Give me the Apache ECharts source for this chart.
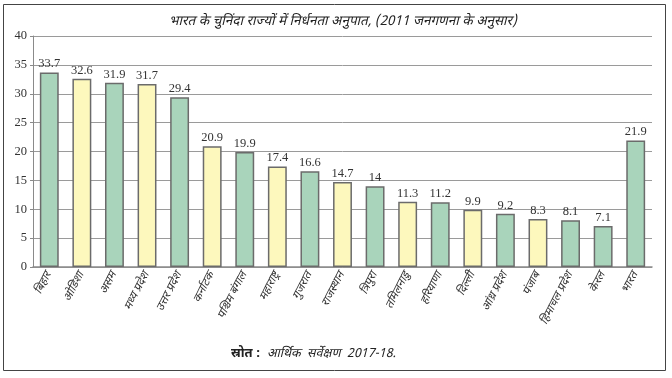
<!DOCTYPE html>
<html>
<head>
<meta charset="utf-8">
<script src="https://cdn.jsdelivr.net/npm/echarts@6/dist/echarts.min.js"></script>
<style>
  html, body { margin: 0; padding: 0; background: #fff; }
  #chart { width: 672px; height: 378px; }
</style>
</head>
<body>
<div id="chart"></div>
<script>
// राज्य-वार निर्धनता अनुपात (2011)
const states = [
  "बिहार", "ओडिशा", "असम", "मध्य प्रदेश", "उत्तर प्रदेश", "कर्नाटक",
  "पश्चिम बंगाल", "महाराष्ट्र", "गुजरात", "राजस्थान", "त्रिपुरा", "तमिलनाडु",
  "हरियाणा", "दिल्ली", "आंध्र प्रदेश", "पंजाब", "हिमाचल प्रदेश", "केरल", "भारत"
];
const povertyRatio = [33.7, 32.6, 31.9, 31.7, 29.4, 20.9, 19.9, 17.4, 16.6, 14.7, 14, 11.3, 11.2, 9.9, 9.2, 8.3, 8.1, 7.1, 21.9];
// g = हरा, y = पीला
const barTone = ["g", "y", "g", "y", "g", "y", "g", "y", "g", "y", "g", "y", "g", "y", "g", "y", "g", "g", "g"];
const yTicks = [0, 5, 10, 15, 20, 25, 30, 35, 40];

const TONES = { g: "#a9d4bb", y: "#fdf8bd" };
const DEVA = "'Noto Sans Devanagari', 'Lohit Devanagari', 'Noto Serif Devanagari', 'Mukta', sans-serif";
const SERIF = "'Liberation Serif', 'DejaVu Serif', serif";

const chart = echarts.init(document.getElementById("chart"), null, { renderer: "canvas" });

chart.setOption({
  animation: false,
  backgroundColor: "#fff",
  title: {
    text: "भारत के चुनिंदा राज्यों में निर्धनता अनुपात, (2011 जनगणना के अनुसार)",
    left: 338, top: 10, textAlign: "center",
    textStyle: { fontSize: 13.5, fontWeight: "normal", fontStyle: "italic", color: "#222", fontFamily: DEVA }
  },
  grid: { left: 33, right: 20, top: 36, bottom: 111 },
  xAxis: {
    type: "category",
    data: states,
    axisLine: { lineStyle: { color: "#8a8a8a", width: 1.5 } },
    axisTick: { show: false },
    axisLabel: {
      interval: 0, rotate: 63, margin: 6,
      fontSize: 11.5, fontStyle: "italic", color: "#333", fontFamily: DEVA
    }
  },
  yAxis: {
    type: "value",
    min: yTicks[0], max: yTicks[yTicks.length - 1], interval: 5,
    axisLine: { show: true, lineStyle: { color: "#8a8a8a", width: 1 } },
    axisTick: { show: true, length: 3, lineStyle: { color: "#8a8a8a" } },
    axisLabel: { fontSize: 12.5, color: "#333", margin: 6, fontFamily: SERIF },
    splitLine: { lineStyle: { color: "#9a9a9a", width: 1 } }
  },
  series: [{
    type: "bar",
    barWidth: "58%",
    data: povertyRatio.map((v, i) => ({
      value: v,
      itemStyle: { color: TONES[barTone[i]], borderColor: "#6b6b6b", borderWidth: 1.5 }
    })),
    label: {
      show: true, position: "top", distance: 2,
      fontSize: 12.5, color: "#333", fontFamily: SERIF
    }
  }],
  graphic: [
    {
      type: "rect", silent: true,
      shape: { x: 3.5, y: 4.5, width: 662, height: 366 },
      style: { fill: "none", stroke: "#444", lineWidth: 1 }
    },
    {
      type: "text", left: 231, top: 348,
      style: { text: "स्रोत :", fontSize: 13, fontWeight: "bold", fill: "#222", fontFamily: DEVA }
    },
    {
      type: "text", left: 267, top: 348,
      style: { text: "आर्थिक  सर्वेक्षण  2017-18.", fontSize: 12.5, fontStyle: "italic", fill: "#222", fontFamily: DEVA }
    }
  ]
});
</script>
</body>
</html>
